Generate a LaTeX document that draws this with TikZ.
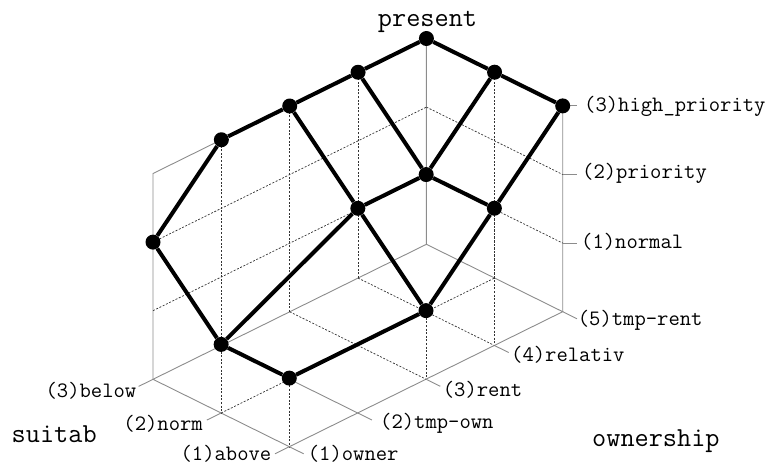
\documentclass[tikz,border=0pt]{standalone}
\usepackage{fontspec}
\usetikzlibrary{backgrounds}
\begin{document}
\begin{tikzpicture}[x=1pt,y=1pt,
  lab/.style={font=\ttfamily\fontsize{22}{24}\selectfont, inner sep=0pt},
  ttl/.style={font=\ttfamily\fontsize{27.5}{30}\selectfont, inner sep=0pt},
  dot/.style={circle, fill=black, minimum size=15pt, inner sep=0pt},
  edge/.style={line width=4pt, black},
  frame/.style={black!45, line width=0.9pt},
  hid/.style={black!80, line width=0.7pt, dash pattern=on 2pt off 1.6pt},
  tick/.style={black!45, line width=0.9pt}]
\useasboundingbox (0,0) rectangle (770,-466);
\begin{scope}[shift={(289.1pt,-514.15pt)}, x={(68.35pt,33.75pt)}, y={(-68.15pt,33.7pt)}, z={(0pt,68.6pt)}]
  % lattice nodes (ownership, suitab, present)
  \node[dot] (nA) at (1,1,1) {};
  \node[dot] (nB) at (1,2,1) {};
  \node[dot] (nC) at (1,3,2) {};
  \node[dot] (nD) at (2,3,3) {};
  \node[dot] (nE) at (3,3,3) {};
  \node[dot] (nF) at (4,3,3) {};
  \node[dot] (nG) at (5,3,3) {};
  \node[dot] (nH) at (5,2,3) {};
  \node[dot] (nI) at (5,1,3) {};
  \node[dot] (nJ) at (3,2,2) {};
  \node[dot] (nK) at (4,2,2) {};
  \node[dot] (nL) at (4,1,2) {};
  \node[dot] (nM) at (3,1,1) {};
  % axis anchor points
  \coordinate (s1) at (1,1,0); \coordinate (s2) at (1,2,0); \coordinate (s3) at (1,3,0);
  \coordinate (o1) at (1,1,0); \coordinate (o2) at (2,1,0); \coordinate (o3) at (3,1,0);
  \coordinate (o4) at (4,1,0); \coordinate (o5) at (5,1,0);
  \coordinate (p1) at (5,1,1); \coordinate (p2) at (5,1,2); \coordinate (p3) at (5,1,3);
  \coordinate (ts1) at (0.79,1,0); \coordinate (ts2) at (0.79,2,0); \coordinate (ts3) at (0.79,3,0);
  \foreach \o in {1,...,5} {\coordinate (to\o) at (\o,0.79,0);}
  \begin{scope}[on background layer]
    % box frame
    \draw[frame] (1,3,0) -- (1,3,3) -- (5,3,3) -- (5,3,0);
    \draw[frame] (5,3,3) -- (5,1,3) -- (5,1,0);
    \draw[frame] (1,1,0) -- (5,1,0) -- (5,3,0) -- (1,3,0) -- cycle;
    \draw[frame] (2,3,0) -- (2,1,0);
    % hidden grid lines
    \draw[hid] (3,3,0) -- (3,1,0);
    \draw[hid] (4,3,0) -- (4,1,0);
    \draw[hid] (1,2,0) -- (5,2,0);
    \foreach \o in {2,3,4} {\draw[hid] (\o,3,0) -- (\o,3,3);}
    \foreach \p in {1,2} {\draw[hid] (1,3,\p) -- (5,3,\p); \draw[hid] (5,3,\p) -- (5,1,\p);}
    \draw[hid] (5,2,0) -- (5,2,3);
    % drop lines
    \draw[hid] (nA.center) -- (1,1,0);
    \draw[hid] (nB.center) -- (1,2,0);
    \draw[hid] (nM.center) -- (3,1,0);
    \draw[hid] (nL.center) -- (4,1,0);
    % ticks
    \foreach \s in {1,2,3} {\draw[tick] (s\s) -- (ts\s);}
    \foreach \o in {1,...,5} {\draw[tick] (o\o) -- (to\o);}
    \foreach \p in {1,2,3} {\draw[tick] (p\p) -- ++(14pt,0);}
  \end{scope}
  % lattice edges
  \draw[edge] (nA) -- (nB);
  \draw[edge] (nA) -- (nM);
  \draw[edge] (nB) -- (nC);
  \draw[edge] (nB) -- (nJ);
  \draw[edge] (nC) -- (nD);
  \draw[edge] (nD) -- (nE);
  \draw[edge] (nE) -- (nF);
  \draw[edge] (nF) -- (nG);
  \draw[edge] (nG) -- (nH);
  \draw[edge] (nH) -- (nI);
  \draw[edge] (nE) -- (nJ);
  \draw[edge] (nF) -- (nK);
  \draw[edge] (nJ) -- (nK);
  \draw[edge] (nJ) -- (nM);
  \draw[edge] (nK) -- (nH);
  \draw[edge] (nK) -- (nL);
  \draw[edge] (nL) -- (nI);
  \draw[edge] (nM) -- (nL);
\end{scope}
% labels
\node[lab, anchor=east] (lbelow) at (136.5,-390.8) {(3)below};
\node[lab, anchor=east] (lnorm) at (203,-424) {(2)norm};
\node[lab, anchor=east] (labove) at (271.5,-453.5) {(1)above};
\node[lab, anchor=west] (lowner) at (307.7,-453.5) {(1)owner};
\node[lab, anchor=west] (ltmpown) at (380,-423.3) {(2)tmp-own};
\node[lab, anchor=west] (lrent) at (442.7,-389.3) {(3)rent};
\node[lab, anchor=west] (lrelativ) at (511,-355) {(4)relativ};
\node[lab, anchor=west] (ltmprent) at (577.7,-320.7) {(5)tmp-rent};
\node[lab, anchor=west] (lnormal) at (581,-242) {(1)normal};
\node[lab, anchor=west] (lpriority) at (582,-173.3) {(2)priority};
\node[lab, anchor=west] (lhigh) at (584,-106) {(3)high\_priority};
\node[ttl, anchor=base] (tpresent) at (427.5,-26) {present};
\node[ttl, anchor=base] (tsuitab) at (54.2,-442.7) {suitab};
\node[ttl, anchor=base] (townership) at (655.9,-446.7) {ownership};
\end{tikzpicture}
\end{document}
